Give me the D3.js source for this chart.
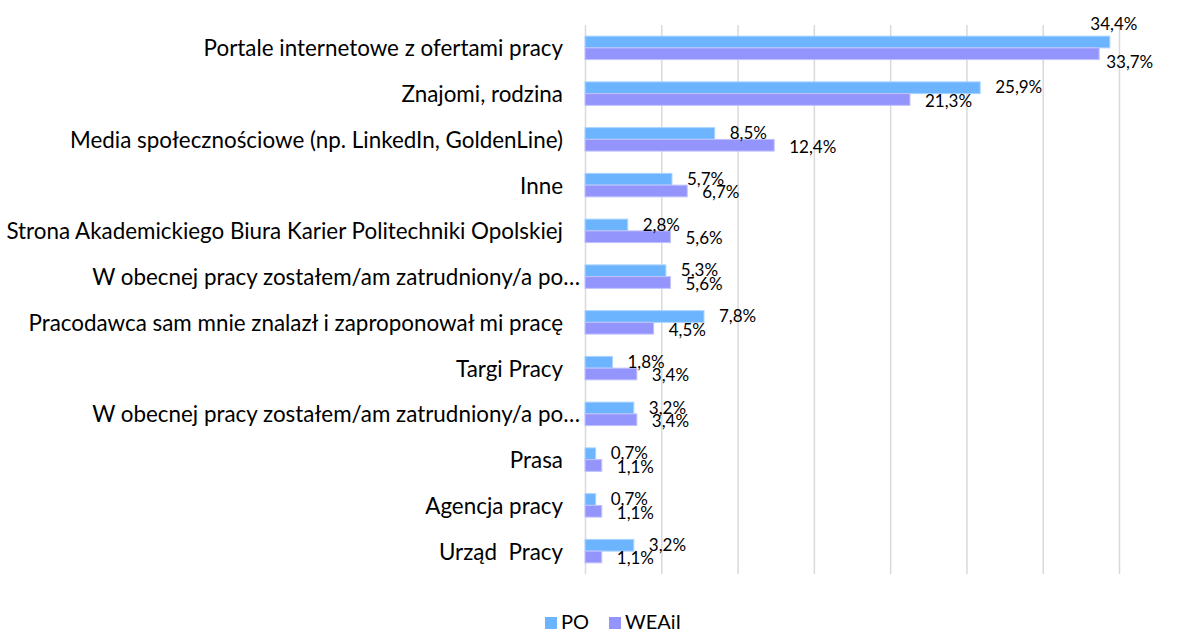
<!DOCTYPE html>
<html>
<head>
<meta charset="utf-8">
<script src="https://cdn.jsdelivr.net/npm/d3@7"></script>
<style>
  html, body { margin: 0; padding: 0; background: #fff; }
  svg { display: block; font-family: Lato, "Open Sans", sans-serif; }
</style>
</head>
<body>
<div id="chart"></div>
<script>
const width = 1184;
const height = 633;
const margin = { top: 25, right: 65, bottom: 59, left: 585 };

// categories, top to bottom
const categories = [
    "Portale internetowe z ofertami pracy",
    "Znajomi, rodzina",
    "Media społecznościowe (np. LinkedIn, GoldenLine)",
    "Inne",
    "Strona Akademickiego Biura Karier Politechniki Opolskiej",
    "W obecnej pracy zostałem/am zatrudniony/a po…",
    "Pracodawca sam mnie znalazł i zaproponował mi pracę",
    "Targi Pracy",
    "W obecnej pracy zostałem/am zatrudniony/a po…",
    "Prasa",
    "Agencja pracy",
    "Urząd  Pracy"
];
const seriesNames = ["PO", "WEAiI"];
const poValues = [34.4, 25.9, 8.5, 5.7, 2.8, 5.3, 7.8, 1.8, 3.2, 0.7, 0.7, 3.2];
const weaiiValues = [33.7, 21.3, 12.4, 6.7, 5.6, 5.6, 4.5, 3.4, 3.4, 1.1, 1.1, 1.1];
const xTicks = [0, 5, 10, 15, 20, 25, 30, 35];

const colors = { "PO": "#6db4ff", "WEAiI": "#9494fd" };
const strokes = { "PO": "#a9d3ff", "WEAiI": "#c2c2ff" };

const plLocale = d3.formatLocale({ decimal: ",", thousands: " ", grouping: [3], currency: ["", " zł"] });
const fmt = v => plLocale.format(".1f")(v) + "%";

const rows = categories.map((c, i) => ({
    key: i,
    name: c,
    values: [
        { series: "PO", value: poValues[i] },
        { series: "WEAiI", value: weaiiValues[i] }
    ]
}));

const svg = d3.select("#chart").append("svg")
    .attr("width", width)
    .attr("height", height);

const plotW = width - margin.left - margin.right;
const plotH = height - margin.top - margin.bottom;

const x = d3.scaleLinear()
    .domain([0, 35])
    .range([margin.left, margin.left + plotW]);

const y = d3.scaleBand()
    .domain(rows.map(d => d.key))
    .range([margin.top, margin.top + plotH]);

const ySub = d3.scaleBand()
    .domain(seriesNames)
    .range([0, y.bandwidth()])
    .paddingOuter(0.95);

// gridlines
svg.append("g")
    .attr("class", "grid")
    .attr("transform", `translate(0,${margin.top + plotH})`)
    .call(d3.axisBottom(x).tickValues(xTicks).tickSize(-plotH).tickFormat(""))
    .call(g => g.select(".domain").remove())
    .call(g => g.selectAll("line").attr("stroke", "#d9d9d9").attr("stroke-width", 1.5));

// category labels
svg.append("g")
    .selectAll("text")
    .data(rows)
    .join("text")
    .attr("x", d => d.name.endsWith("…") ? margin.left - 5 : margin.left - 22)
    .attr("y", d => y(d.key) + y.bandwidth() / 2)
    .attr("text-anchor", "end")
    .attr("dominant-baseline", "central")
    .attr("font-size", 22.4)
    .attr("fill", "#000")
    .style("white-space", "pre")
    .text(d => d.name);

// bars
const group = svg.append("g")
    .selectAll("g")
    .data(rows)
    .join("g")
    .attr("transform", d => `translate(0,${y(d.key)})`);

group.selectAll("rect")
    .data(d => d.values)
    .join("rect")
    .attr("x", x(0))
    .attr("y", d => ySub(d.series))
    .attr("width", d => x(d.value) - x(0))
    .attr("height", ySub.bandwidth())
    .attr("fill", d => colors[d.series])
    .attr("stroke", d => strokes[d.series])
    .attr("stroke-width", 1);

// data labels
const labelSize = 17;
group.selectAll("text")
    .data(d => d.values)
    .join("text")
    .attr("font-size", labelSize)
    .attr("fill", "#000")
    .attr("dominant-baseline", "central")
    .text(d => fmt(d.value))
    .each(function (d) {
        const t = d3.select(this);
        const w = this.getComputedTextLength();
        const end = x(d.value);
        const top = ySub(d.series);
        const mid = top + ySub.bandwidth() / 2;
        if (end + 16 + w > x.range()[1]) {
            // no room inside the plot: put it over / under the bar end
            if (d.series === "PO") {
                t.attr("x", end + 4).attr("y", top - 13).attr("text-anchor", "middle");
            } else {
                t.attr("x", end + 7).attr("y", top + ySub.bandwidth() + 2).attr("text-anchor", "start");
            }
        } else {
            t.attr("x", end + 15)
             .attr("y", d.series === "PO" ? mid - 1 : mid + 1)
             .attr("text-anchor", "start");
        }
    });

// legend
const legend = svg.append("g");
const legendItems = legend.selectAll("g")
    .data(seriesNames)
    .join("g");

legendItems.append("rect")
    .attr("width", 12)
    .attr("height", 12)
    .attr("y", -12)
    .attr("fill", d => colors[d]);

legendItems.append("text")
    .attr("x", 16)
    .attr("font-size", 20)
    .attr("fill", "#000")
    .text(d => d);

let offset = 0;
legendItems.each(function () {
    d3.select(this).attr("transform", `translate(${offset},0)`);
    offset += this.getBBox().width + 20;
});
const legendW = offset - 20;
legend.attr("transform", `translate(${613 - legendW / 2},629)`);
</script>
</body>
</html>
